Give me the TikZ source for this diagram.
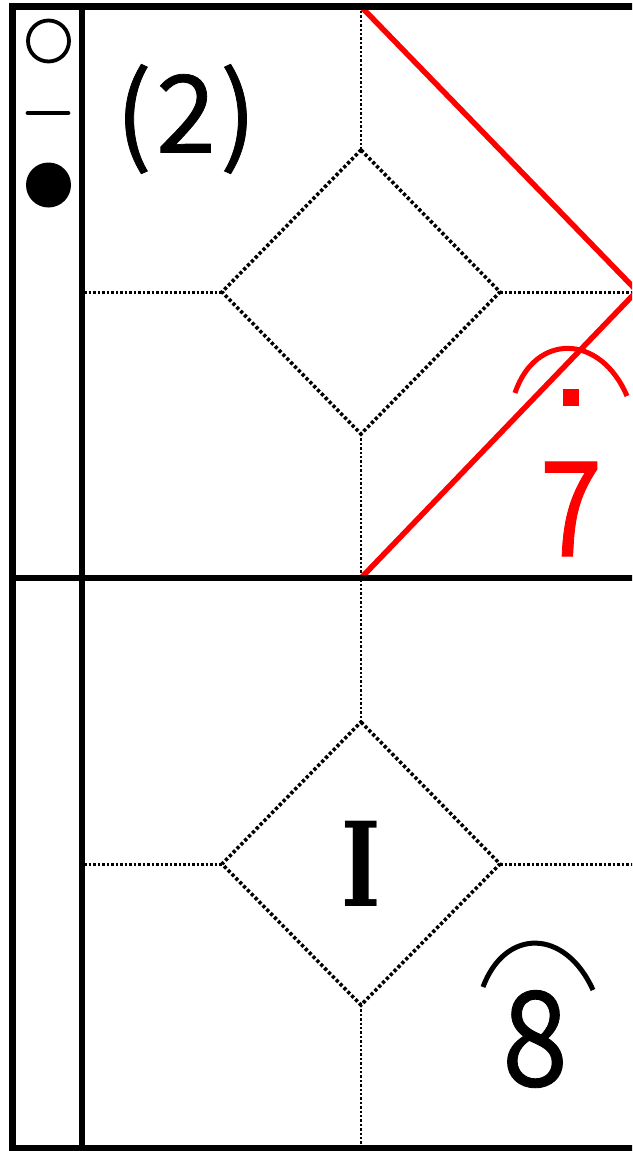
\documentclass[tikz,border=0pt]{standalone}
\usepackage{fontspec}
\newfontfamily\jp{Noto Sans CJK JP}[FakeBold=0.7]
\newfontfamily\srf{DejaVu Serif}
\begin{document}
\begin{tikzpicture}[x=1pt,y=-1pt,
  frame/.style={line width=7pt,line join=miter},
  vdot/.style={line width=2.6pt,dash pattern=on 2.4pt off 2pt},
  hdot/.style={line width=3pt,dash pattern=on 2.8pt off 1.7pt},
  ddot/.style={line width=3.6pt,dash pattern=on 3.2pt off 2.3pt},
  redline/.style={red,line width=5.5pt},
  arcline/.style={line width=5pt,line cap=butt},
  bigtxt/.style={inner sep=0pt,font=\jp\fontsize{132}{140}\selectfont}]
\useasboundingbox (0,0) rectangle (632,1151);
\clip (0,0) rectangle (632,1151);
% coordinates
\coordinate (top) at (361,6.5);
\coordinate (mid) at (361,578);
\coordinate (bot) at (361,1148.5);
\coordinate (rv) at (637,291);
% top diamond
\coordinate (aT) at (361,150);
\coordinate (aL) at (222,292);
\coordinate (aR) at (500,292);
\coordinate (aB) at (361,434);
\coordinate (aW) at (84,292);
\coordinate (aE) at (640,292);
% bottom diamond
\coordinate (bT) at (361,722);
\coordinate (bL) at (222,864);
\coordinate (bR) at (500,864);
\coordinate (bB) at (361,1005);
\coordinate (bW) at (84,864);
\coordinate (bE) at (640,864);
% dotted guides
\draw[vdot] (top) -- (aT);
\draw[vdot] (aB) -- (bT);
\draw[vdot] (bB) -- (bot);
\draw[hdot] (aW) -- (aL);
\draw[hdot] (aR) -- (aE);
\draw[hdot] (bW) -- (bL);
\draw[hdot] (bR) -- (bE);
\draw[ddot] (aT) -- (aR) -- (aB) -- (aL) -- cycle;
\draw[ddot] (bT) -- (bR) -- (bB) -- (bL) -- cycle;
% red lines
\draw[redline] (top) -- (rv) -- (mid);
% red recurring mark
\draw[arcline,red] (515,393) .. controls (535,333) and (600,333) .. (627,396);
\fill[red] (563,389) rectangle (579,406);
\node[bigtxt,red,xscale=0.85] (seven) at (571,509) {7};
% 8 with arc
\draw[arcline] (483,987) .. controls (505,928) and (565,928) .. (593,990);
\node[bigtxt,xscale=0.9] (eight) at (535,1039) {8};
% I
\node[inner sep=0pt,xscale=0.72,font=\srf\bfseries\fontsize{117}{120}\selectfont] (one) at (361.5,863.5) {I};
% (2)
\node[inner sep=0pt,font=\jp\fontsize{108}{110}\selectfont] (lbl) at (186,119) {(\kern4pt2\kern4pt)};
% legend marks
\draw[line width=3.8pt] (48.5,41) circle (20.5);
\draw[line width=4.8pt,line cap=round] (28,113) -- (68,113);
\fill (48.5,185) circle (22.5);
% frame
\draw[frame] (640,6.5) -| (12,1148.5) -- (640,1148.5);
\draw[line width=6.5pt] (82,6.5) -- (82,1148.5);
\draw[line width=6.5pt] (12,578) -- (640,578);
\end{tikzpicture}
\end{document}
